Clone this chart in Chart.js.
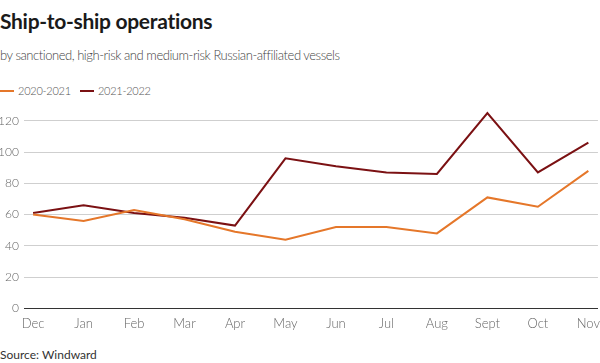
<!DOCTYPE html>
<html>
<head>
<meta charset="utf-8">
<script src="https://cdn.jsdelivr.net/npm/chart.js@4.4.1/dist/chart.umd.min.js"></script>
<style>
  html, body { margin: 0; padding: 0; background: #fff; }
  body { width: 600px; height: 363px; position: relative; overflow: hidden; font-family: Lato, "Open Sans", sans-serif; }
  #title { position: absolute; left: 0; top: 8px; font-size: 21px; font-weight: 700; color: #1a1a1a; letter-spacing: -0.3px; }
  #subtitle { position: absolute; left: 0; top: 47px; font-size: 13px; font-weight: 300; color: #444; letter-spacing: -0.45px; }
  #legend { position: absolute; left: 0; top: 84px; font-size: 11px; font-weight: 300; color: #555; letter-spacing: -0.25px; display: flex; }
  #legend .item { display: flex; align-items: center; margin-right: 9px; }
  #legend .swatch { width: 14px; height: 2px; margin-right: 4px; }
  #source { position: absolute; left: 0; top: 347px; font-size: 12px; color: #333; }
  #wrap { position: absolute; left: 0; top: 93px; width: 600px; height: 239px; }
</style>
</head>
<body>
<div id="title">Ship-to-ship operations</div>
<div id="subtitle">by sanctioned, high-risk and medium-risk Russian-affiliated vessels</div>
<div id="legend"></div>
<div id="wrap"><canvas id="chart"></canvas></div>
<div id="source">Source: Windward</div>
<script>
const months = ["Dec", "Jan", "Feb", "Mar", "Apr", "May", "Jun", "Jul", "Aug", "Sept", "Oct", "Nov"];
const series2020 = [60, 56, 63, 57, 49, 44, 52, 52, 48, 71, 65, 88];
const series2021 = [61, 66, 61, 58, 53, 96, 91, 87, 86, 125, 87, 106];
const seriesNames = ["2020-2021", "2021-2022"];
const seriesColors = ["#e5772a", "#7b1113"];
const yTicks = [0, 20, 40, 60, 80, 100, 120];

function toPoints(values) {
  return values.map((v, i) => ({ x: i, y: v }));
}

function buildLegend() {
  const el = document.getElementById("legend");
  seriesNames.forEach((name, i) => {
    const item = document.createElement("div");
    item.className = "item";
    const sw = document.createElement("span");
    sw.className = "swatch";
    sw.style.background = seriesColors[i];
    const label = document.createElement("span");
    label.textContent = name;
    item.appendChild(sw);
    item.appendChild(label);
    el.appendChild(item);
  });
}

function renderChart() {
  const ctx = document.getElementById("chart");
  new Chart(ctx, {
    type: "line",
    data: {
      datasets: [
        {
          label: seriesNames[0],
          data: toPoints(series2020),
          borderColor: seriesColors[0],
          borderWidth: 2,
          pointRadius: 0,
          tension: 0,
        },
        {
          label: seriesNames[1],
          data: toPoints(series2021),
          borderColor: seriesColors[1],
          borderWidth: 2,
          pointRadius: 0,
          tension: 0,
        },
      ],
    },
    options: {
      responsive: true,
      maintainAspectRatio: false,
      animation: false,
      layout: { autoPadding: false, padding: { top: 4, right: 2, left: 0, bottom: 0 } },
      plugins: {
        legend: { display: false },
        tooltip: { enabled: false },
      },
      scales: {
        x: {
          type: "linear",
          min: -0.18,
          max: 11.19,
          grid: { display: false },
          border: { display: true, color: "#333", width: 1 },
          ticks: {
            includeBounds: false,
            stepSize: 1,
            autoSkip: false,
            maxRotation: 0,
            padding: 0,
            color: "#666",
            font: { family: "Lato", size: 13, weight: 300 },
            callback: (v) => months[v],
          },
        },
        y: {
          min: 0,
          max: 130,
          afterBuildTicks: (axis) => {
            axis.ticks = yTicks.map((v) => ({ value: v }));
          },
          afterFit: (axis) => {
            axis.width = 24;
          },
          grid: {
            color: (c) => (c.tick && c.tick.value === 0 ? "rgba(0,0,0,0)" : "#cfcfcf"),
            drawTicks: false,
          },
          border: { display: false },
          ticks: {
            padding: 5,
            color: "#666",
            font: { family: "Lato", size: 12, weight: 300 },
          },
        },
      },
    },
  });
}

buildLegend();
renderChart();
</script>
</body>
</html>
